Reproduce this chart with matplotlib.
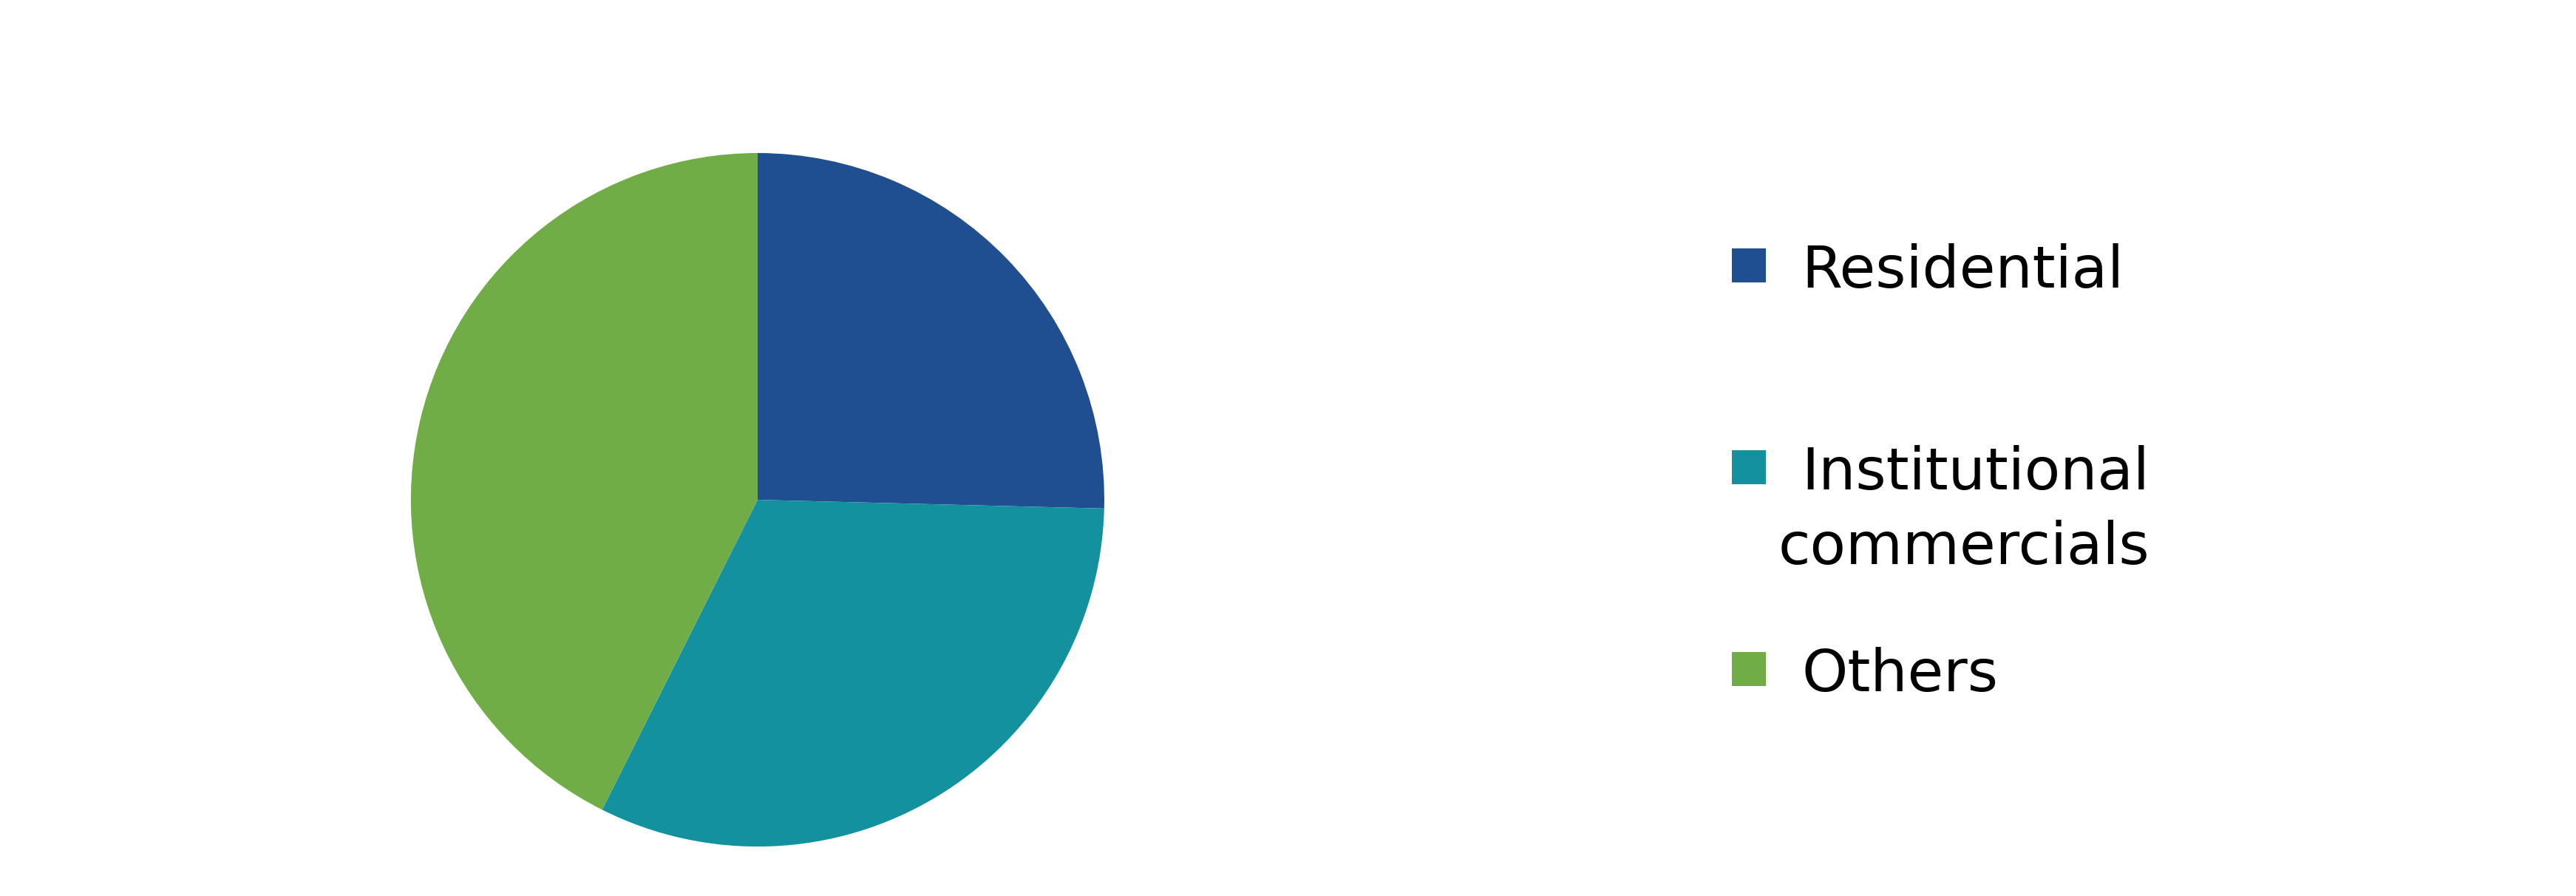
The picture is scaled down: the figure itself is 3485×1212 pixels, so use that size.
import matplotlib
matplotlib.use('Agg')
from matplotlib import pyplot as plt
from matplotlib.patches import Rectangle

categories = ['Residential', 'Institutional commercials', 'Others']
label_lines = [['Residential'], ['Institutional', 'commercials'], ['Others']]
shares = [25.4, 32.0, 42.6]
colors = ['#1F4E91', '#13919E', '#70AD47']

plt.rcParams['font.family'] = ['DejaVu Sans']

W, H = 3485, 1212
fig = plt.figure(figsize=(W / 100, H / 100), dpi=100)
ax = fig.add_axes([0.1595, 0.0552, 0.2692, 0.774])
ax.pie(shares, colors=colors, startangle=90, counterclock=False,
       wedgeprops={'linewidth': 0})
ax.set_xlim(-1, 1)
ax.set_ylim(-1, 1)
ax.set_aspect('equal')
ax.axis('off')

row_baseline = [389, 662, 935]
line_step = 101
sq = 46
for i, (lines, col) in enumerate(zip(label_lines, colors)):
    b = row_baseline[i]
    fig.patches.append(Rectangle((2343 / W, 1 - (b - 7) / H), sq / W, sq / H,
                                 transform=fig.transFigure, facecolor=col,
                                 edgecolor='none'))
    for j, line in enumerate(lines):
        x = 2437 if j == 0 else 2406
        fig.text(x / W, 1 - (b + j * line_step) / H, line, fontsize=57,
                 ha='left', va='baseline', color='black')

fig.savefig('out.png', dpi=100)
